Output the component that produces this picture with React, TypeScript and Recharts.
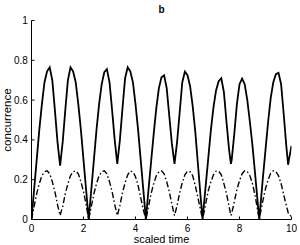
import { LineChart, Line, XAxis, YAxis } from "recharts"

// scaled time samples (extra points where the curves have cusps)
const time = [
  0, 0.1, 0.2, 0.3, 0.4, 0.5, 0.6, 0.7, 0.8, 0.9,
  1.0, 1.1, 1.2, 1.3, 1.4, 1.5, 1.6, 1.7, 1.8, 1.9,
  2.0, 2.1, 2.2, 2.3, 2.4, 2.5, 2.6, 2.7, 2.8, 2.9,
  3.0, 3.1, 3.2, 3.3, 3.4, 3.5, 3.6, 3.7, 3.8, 3.9,
  4.0, 4.1, 4.2, 4.3, 4.4, 4.5, 4.6, 4.7, 4.8, 4.9,
  5.0, 5.1, 5.2, 5.3, 5.4, 5.5, 5.6, 5.7, 5.8, 5.9,
  6.0, 6.1, 6.2, 6.3, 6.4, 6.5, 6.58, 6.6, 6.7, 6.8, 6.9,
  7.0, 7.1, 7.2, 7.3, 7.4, 7.5, 7.6, 7.67, 7.7, 7.8, 7.9,
  8.0, 8.1, 8.2, 8.3, 8.4, 8.5, 8.6, 8.7, 8.76, 8.8, 8.9,
  9.0, 9.1, 9.2, 9.3, 9.4, 9.5, 9.6, 9.7, 9.8, 9.87, 9.9,
  10,
]

// solid curve
const concurrenceA = [
  0, 0.15, 0.3, 0.45, 0.58, 0.69, 0.745, 0.765, 0.7, 0.55,
  0.39, 0.27, 0.39, 0.55, 0.7, 0.765, 0.745, 0.69, 0.58, 0.45,
  0.3, 0.15, 0, 0.15, 0.3, 0.45, 0.58, 0.68, 0.74, 0.755,
  0.69, 0.55, 0.4, 0.28, 0.4, 0.56, 0.71, 0.765, 0.745, 0.69,
  0.58, 0.45, 0.3, 0.15, 0, 0.15, 0.29, 0.43, 0.56, 0.66,
  0.715, 0.725, 0.66, 0.52, 0.38, 0.28, 0.39, 0.54, 0.69, 0.743,
  0.725, 0.67, 0.57, 0.44, 0.28, 0.12, 0, 0.03, 0.17, 0.31, 0.45,
  0.565, 0.65, 0.695, 0.71, 0.64, 0.49, 0.35, 0.28, 0.3, 0.43, 0.58,
  0.68, 0.708, 0.68, 0.6, 0.49, 0.37, 0.23, 0.085, 0, 0.06, 0.21,
  0.35, 0.49, 0.61, 0.69, 0.73, 0.737, 0.68, 0.53, 0.37, 0.275, 0.3,
  0.37,
]

// dash-dot curve
const concurrenceB = [
  0, 0.065, 0.13, 0.18, 0.22, 0.24, 0.245, 0.23, 0.19, 0.14,
  0.075, 0.02, 0.065, 0.13, 0.18, 0.22, 0.24, 0.245, 0.23, 0.19,
  0.14, 0.075, 0, 0.065, 0.13, 0.18, 0.22, 0.24, 0.245, 0.23,
  0.19, 0.14, 0.075, 0.02, 0.07, 0.135, 0.185, 0.225, 0.243, 0.24,
  0.215, 0.17, 0.11, 0.05, 0, 0.065, 0.13, 0.18, 0.22, 0.24,
  0.245, 0.23, 0.19, 0.14, 0.075, 0.02, 0.07, 0.135, 0.185, 0.225,
  0.243, 0.24, 0.22, 0.17, 0.11, 0.05, 0, 0.013, 0.08, 0.145, 0.19,
  0.225, 0.243, 0.243, 0.225, 0.18, 0.13, 0.065, 0.02, 0.03, 0.09, 0.15,
  0.195, 0.23, 0.245, 0.24, 0.22, 0.18, 0.12, 0.045, 0, 0.03, 0.095,
  0.155, 0.2, 0.232, 0.245, 0.24, 0.22, 0.18, 0.125, 0.07, 0.035, 0.025,
  0.015,
]

const xTicks = [0, 2, 4, 6, 8, 10]
const yTicks = [0, 0.2, 0.4, 0.6, 0.8, 1]

const data = time.map((t, i) => ({ t, a: concurrenceA[i], b: concurrenceB[i] }))

const font = "'Liberation Sans', Arial, sans-serif"
const tickStyle = { fill: "#000", fontSize: 10 }

export default function App() {
  return (
    <div style={{ position: "absolute", left: 0, top: 0, width: 300, height: 245, background: "#fff", fontFamily: font }}>
      <div
        style={{
          position: "absolute",
          left: 111.5,
          width: 100,
          top: 4.5,
          textAlign: "center",
          fontSize: 10,
          lineHeight: "10px",
          fontWeight: "bold",
          color: "#000",
        }}
      >
        b
      </div>
      <LineChart
        width={300}
        height={245}
        data={data}
        margin={{ top: 20.5, right: 8.5, left: 0, bottom: 0 }}
        style={{ fontFamily: font }}
      >
        <XAxis
          dataKey="t"
          type="number"
          domain={[0, 10]}
          ticks={xTicks}
          allowDataOverflow
          height={25.5}
          tickSize={-3}
          tickMargin={8}
          tick={tickStyle}
          stroke="#000"
          label={{ value: "scaled time", position: "insideBottom", offset: 2.5, style: { fill: "#000", fontSize: 11 } }}
        />
        <XAxis
          xAxisId="top"
          orientation="top"
          dataKey="t"
          type="number"
          domain={[0, 10]}
          ticks={xTicks}
          allowDataOverflow
          height={0}
          tickSize={-3}
          tickFormatter={() => ""}
          stroke="#000"
        />
        <YAxis
          type="number"
          domain={[0, 1]}
          ticks={yTicks}
          allowDataOverflow
          width={31.5}
          tickSize={-3}
          tickMargin={6.7}
          tick={tickStyle}
          stroke="#000"
          label={{
            value: "concurrence",
            angle: -90,
            position: "insideLeft",
            offset: 7,
            style: { fill: "#000", fontSize: 11.5, textAnchor: "middle" },
          }}
        />
        <YAxis
          yAxisId="right"
          orientation="right"
          type="number"
          domain={[0, 1]}
          ticks={yTicks}
          allowDataOverflow
          width={0}
          tickSize={-3}
          tickFormatter={() => ""}
          stroke="#000"
        />
        <Line
          type="linear"
          dataKey="a"
          stroke="#000"
          strokeWidth={1.8}
          dot={false}
          isAnimationActive={false}
        />
        <Line
          type="linear"
          dataKey="b"
          stroke="#000"
          strokeWidth={1.4}
          strokeDasharray="6 2.5 1.5 2.5"
          dot={false}
          isAnimationActive={false}
        />
      </LineChart>
    </div>
  )
}
